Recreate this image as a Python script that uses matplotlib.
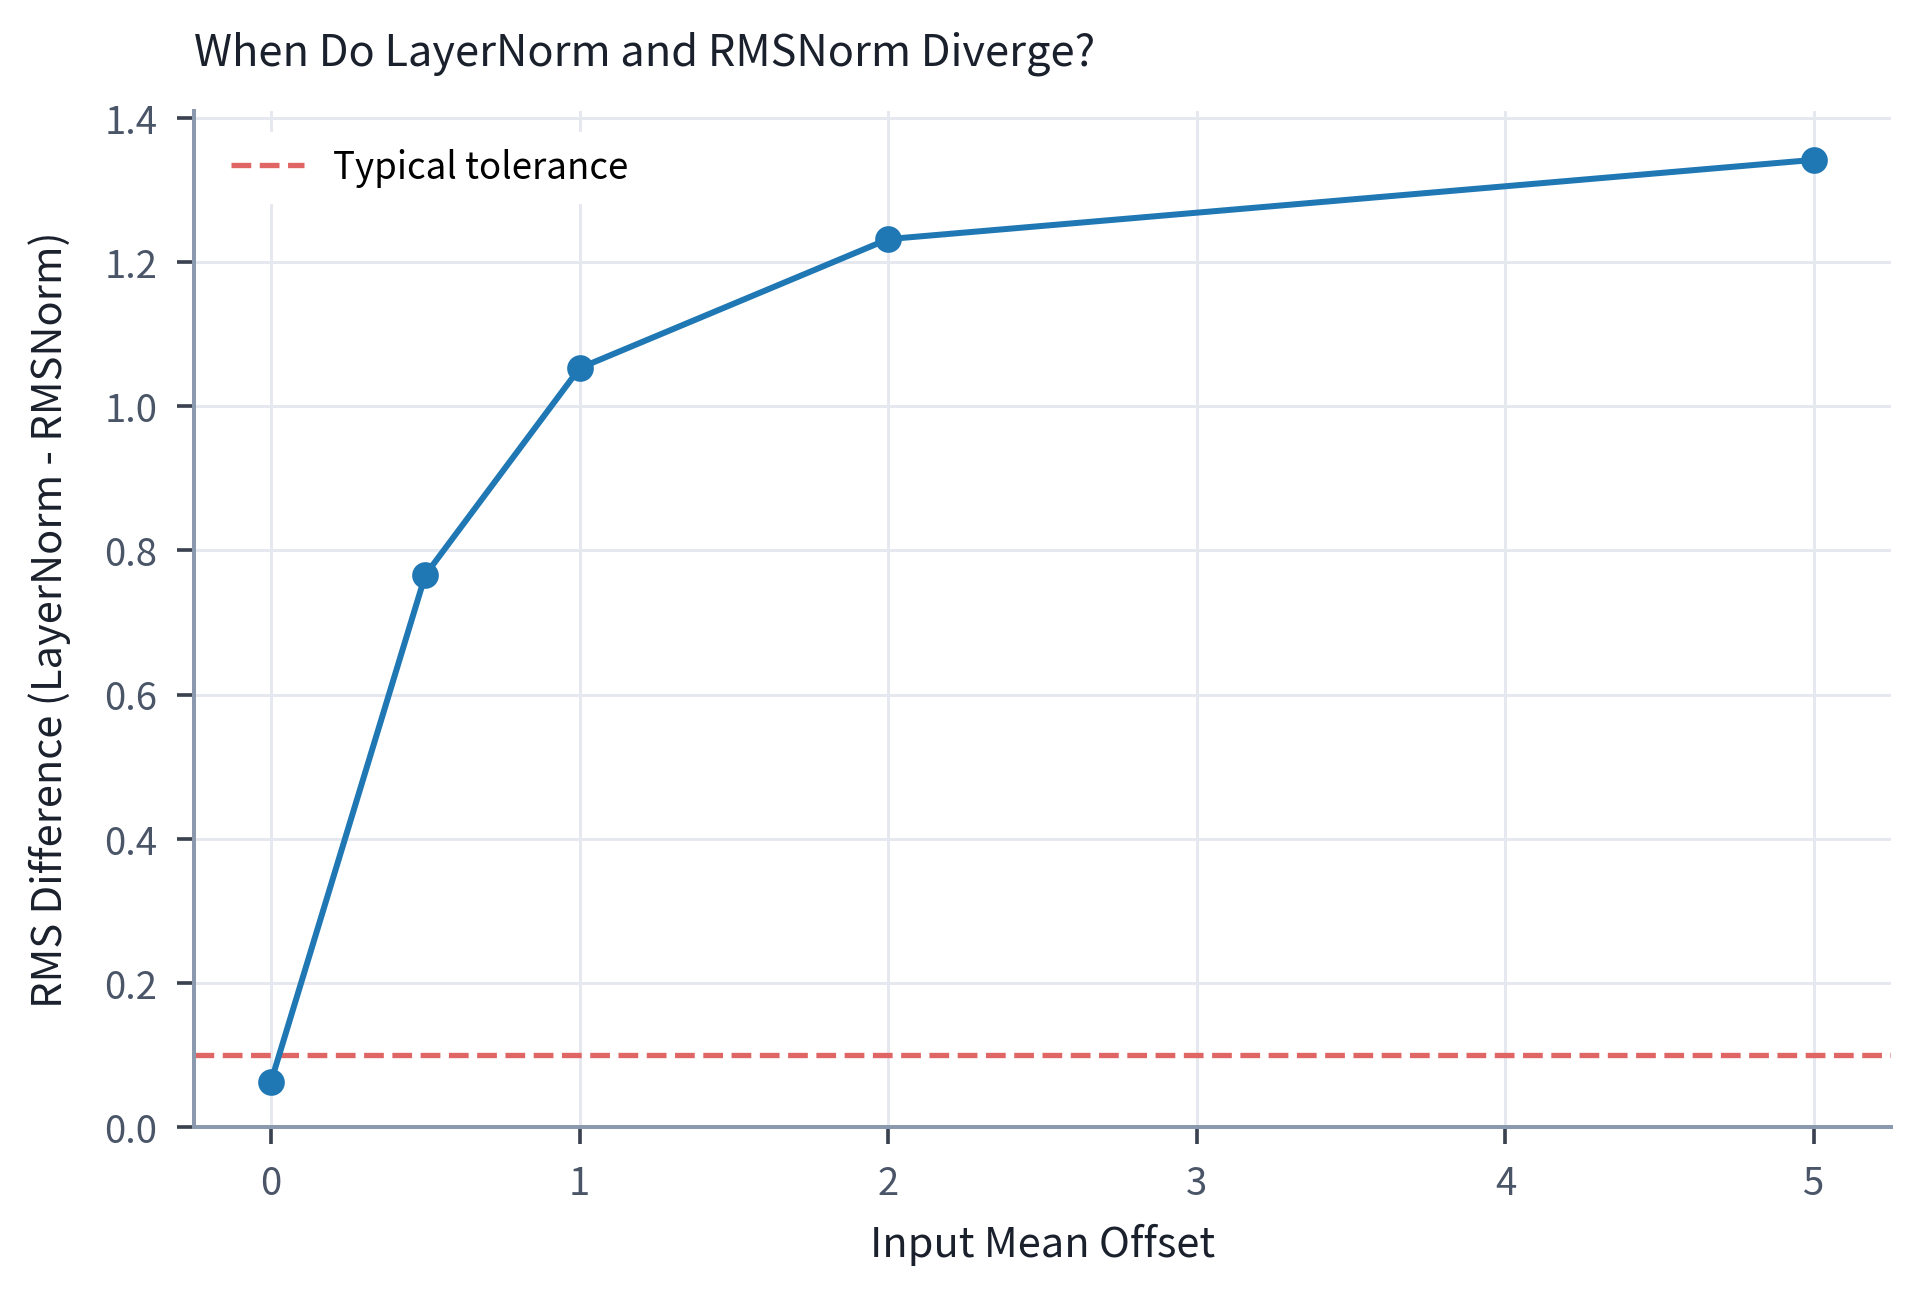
import numpy as np
import matplotlib
matplotlib.use('Agg')
import matplotlib.pyplot as plt

plt.rcParams['font.family'] = ['Noto Sans CJK KR', 'DejaVu Sans']

offsets = [0, 0.5, 1, 2, 5]
rms_diff = [0.063, 0.766, 1.053, 1.232, 1.342]
tolerance = 0.1

fig, ax = plt.subplots(figsize=(8, 5.383), dpi=240)
fig.subplots_adjust(left=0.101, right=0.985, top=0.913, bottom=0.127)

ax.plot(offsets, rms_diff, color='#1f77b4', lw=1.8, marker='o', ms=7, zorder=3)
ax.axhline(tolerance, color='#e06666', ls='--', lw=1.6, label='Typical tolerance', zorder=2)

ax.set_ylim(0, max(rms_diff) * 1.05)
ax.set_xticks([0, 1, 2, 3, 4, 5])
ax.set_yticks([0.0, 0.2, 0.4, 0.6, 0.8, 1.0, 1.2, 1.4])

ax.set_title('When Do LayerNorm and RMSNorm Diverge?', loc='left', fontsize=13, color='#1a202c', pad=14)
ax.set_xlabel('Input Mean Offset', fontsize=12.5, color='#1a202c', labelpad=6)
ax.set_ylabel('RMS Difference (LayerNorm - RMSNorm)', fontsize=12.5, color='#1a202c', labelpad=10)

ax.grid(True, color='#e5e8ef', lw=0.9)
ax.set_axisbelow(True)
for s in ['top', 'right']:
    ax.spines[s].set_visible(False)
for s in ['left', 'bottom']:
    ax.spines[s].set_color('#8a99ad')
    ax.spines[s].set_linewidth(1.2)
ax.tick_params(labelsize=11.5, labelcolor='#4a5568', color='#3a4250', length=5, width=1.1, pad=6)

leg = ax.legend(loc='upper left', frameon=True, fontsize=11, borderaxespad=0.6)
leg.get_frame().set_facecolor('white')
leg.get_frame().set_edgecolor('white')
leg.get_frame().set_alpha(1.0)

plt.savefig('out.png', dpi=240)
